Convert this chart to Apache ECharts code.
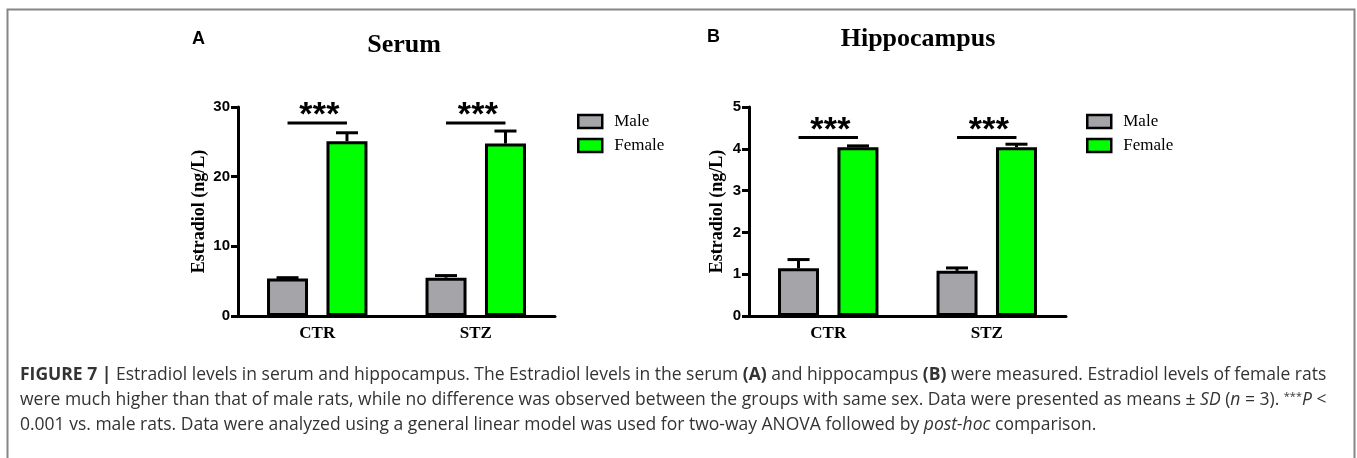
<!DOCTYPE html>
<html>
<head>
<meta charset="utf-8">
<script src="https://cdn.jsdelivr.net/npm/echarts@6/dist/echarts.min.js"></script>
<style>
html,body{margin:0;padding:0;background:#fff;}
#chart{width:1357px;height:458px;}
</style>
</head>
<body>
<div id="chart"></div>
<script>
// ---- data ----
const categories = ['CTR', 'STZ'];
const seriesNames = ['Male', 'Female'];
const serumMale = [5.4, 5.5];
const serumMaleSD = [0.1, 0.3];
const serumFemale = [25.1, 24.75];
const serumFemaleSD = [1.2, 1.8];
const hippoMale = [1.14, 1.08];
const hippoMaleSD = [0.21, 0.07];
const hippoFemale = [4.04, 4.04];
const hippoFemaleSD = [0.03, 0.07];
const serumSig = [27.7, 27.7];
const hippoSig = [4.27, 4.27];
const sigLabel = '***';
const serumAxis = { min: 0, max: 30, interval: 10 };
const hippoAxis = { min: 0, max: 5, interval: 1 };
const panelTitles = ['Serum', 'Hippocampus'];
const panelLetters = ['A', 'B'];
const yAxisName = 'Estradiol (ng/L)';
const captionLines = [
  '{b|FIGURE 7 |} Estradiol levels in serum and hippocampus. The Estradiol levels in the serum {b|(A)} and hippocampus {b|(B)} were measured. Estradiol levels of female rats',
  'were much higher than that of male rats, while no difference was observed between the groups with same sex. Data were presented as means \u00b1 {i|SD} ({i|n} = 3). {s|***}{i|P} <',
  '0.001 vs. male rats. Data were analyzed using a general linear model was used for two-way ANOVA followed by {i|post-hoc} comparison.'
];

// ---- styles ----
const BAR_W = 41, BAR_GAP = 0.45, BORDER = 3;
const OFFSET = BAR_W * (1 + BAR_GAP) / 2;
const COLORS = ['#a5a5a9', '#00ff00'];
const SERIF = '"Liberation Serif", "Times New Roman", serif';
const SANS = '"Liberation Sans", Arial, sans-serif';
const CAP = '"Open Sans", "Liberation Sans", sans-serif';
const CAP_SIZE = 17.5;

function errRender(offset) {
  return function (params, api) {
    const c = api.value(0);
    const p0 = api.coord([c, api.value(1)]);
    const p1 = api.coord([c, api.value(2)]);
    const x = p0[0] + offset;
    return {
      type: 'group',
      children: [
        { type: 'line', shape: { x1: x, y1: p0[1], x2: x, y2: p1[1] }, style: { stroke: '#000', lineWidth: 3 } },
        { type: 'line', shape: { x1: x - 11, y1: p1[1], x2: x + 11, y2: p1[1] }, style: { stroke: '#000', lineWidth: 3 } }
      ]
    };
  };
}
function sigRender(params, api) {
  const c = api.value(0);
  const p = api.coord([c, api.value(1)]);
  const children = [
    { type: 'line', shape: { x1: p[0] - OFFSET, y1: p[1], x2: p[0] + OFFSET, y2: p[1] }, style: { stroke: '#000', lineWidth: 3 } }
  ];
  const n = sigLabel.length;
  for (let k = 0; k < n; k++) {
    children.push({
      type: 'text',
      x: p[0] + 2 + (k - (n - 1) / 2) * 13.5,
      y: p[1] + 10,
      style: { text: sigLabel[k], fontFamily: SANS, fontWeight: 'bold', fontSize: 34, fill: '#000', textAlign: 'center', textVerticalAlign: 'bottom', align: 'center', verticalAlign: 'bottom' }
    });
  }
  return { type: 'group', children };
}

const grids = [
  { left: 238, top: 107, width: 317, height: 209 },
  { left: 749, top: 107, width: 317, height: 209 }
];
function xAx(i) {
  return {
    type: 'category', gridIndex: i, data: categories,
    axisLine: { lineStyle: { color: '#000', width: 3 } },
    axisTick: { alignWithLabel: true, length: 7, lineStyle: { color: '#000', width: 3 } },
    axisLabel: { margin: 9, color: '#000', fontFamily: SERIF, fontWeight: 'bold', fontSize: 17 }
  };
}
function yAx(i, ax, gap) {
  return {
    type: 'value', gridIndex: i, min: ax.min, max: ax.max, interval: ax.interval,
    name: yAxisName, nameLocation: 'middle', nameGap: gap, nameRotate: 90,
    nameTextStyle: { fontFamily: SERIF, fontWeight: 'bold', fontSize: 18, color: '#000' },
    axisLine: { show: true, lineStyle: { color: '#000', width: 3 } },
    axisTick: { show: true, length: 7, lineStyle: { color: '#000', width: 3 } },
    axisLabel: { margin: 8, color: '#000', fontFamily: SANS, fontWeight: 'bold', fontSize: 15 },
    splitLine: { show: false }
  };
}
function bar(name, data, i, color) {
  return {
    type: 'bar', name, data, xAxisIndex: i, yAxisIndex: i,
    barWidth: BAR_W, barGap: (BAR_GAP * 100) + '%',
    itemStyle: { color, borderColor: '#000', borderWidth: BORDER },
    emphasis: { disabled: true }, animation: false
  };
}
function err(data, sd, i, offset) {
  return {
    type: 'custom', name: 'err', xAxisIndex: i, yAxisIndex: i,
    data: data.map((v, k) => [k, v, v + sd[k]]),
    renderItem: errRender(offset), z: 3, animation: false
  };
}
function sig(data, i) {
  return {
    type: 'custom', name: 'sig', xAxisIndex: i, yAxisIndex: i,
    data: data.map((v, k) => [k, v]),
    renderItem: sigRender, z: 3, animation: false
  };
}
function legend(left) {
  return {
    data: seriesNames, orient: 'vertical', left, top: 113, padding: 0, icon: 'rect',
    itemWidth: 24, itemHeight: 13, itemGap: 7, selectedMode: false,
    itemStyle: { borderColor: '#000', borderWidth: 2.5 },
    textStyle: { fontFamily: SERIF, fontSize: 17, color: '#000', padding: [0, 0, 0, 7] }
  };
}

const chart = echarts.init(document.getElementById('chart'), null, { renderer: 'canvas' });
chart.setOption({
  animation: false,
  backgroundColor: '#fff',
  grid: grids,
  xAxis: [xAx(0), xAx(1)],
  yAxis: [yAx(0, serumAxis, 30), yAx(1, hippoAxis, 23)],
  legend: [legend(577), legend(1086)],
  series: [
    bar(seriesNames[0], serumMale, 0, COLORS[0]),
    bar(seriesNames[1], serumFemale, 0, COLORS[1]),
    err(serumMale, serumMaleSD, 0, -OFFSET),
    err(serumFemale, serumFemaleSD, 0, OFFSET),
    sig(serumSig, 0),
    bar(seriesNames[0], hippoMale, 1, COLORS[0]),
    bar(seriesNames[1], hippoFemale, 1, COLORS[1]),
    err(hippoMale, hippoMaleSD, 1, -OFFSET),
    err(hippoFemale, hippoFemaleSD, 1, OFFSET),
    sig(hippoSig, 1)
  ],
  graphic: [
    { type: 'rect', shape: { x: 7.5, y: 9.5, width: 1347, height: 600 }, style: { fill: 'none', stroke: '#858585', lineWidth: 2 }, silent: true },
    { type: 'text', x: 404, y: 58, style: { text: panelTitles[0], fontFamily: SERIF, fontWeight: 'bold', fontSize: 26, fill: '#000', textAlign: 'center', textVerticalAlign: 'bottom', align: 'center', verticalAlign: 'bottom' } },
    { type: 'text', x: 918, y: 52, style: { text: panelTitles[1], fontFamily: SERIF, fontWeight: 'bold', fontSize: 26, fill: '#000', textAlign: 'center', textVerticalAlign: 'bottom', align: 'center', verticalAlign: 'bottom' } },
    { type: 'text', x: 192, y: 39, style: { text: panelLetters[0], fontFamily: SANS, fontWeight: 'bold', fontSize: 18, fill: '#000', textVerticalAlign: 'middle', verticalAlign: 'middle' } },
    { type: 'text', x: 707, y: 37, style: { text: panelLetters[1], fontFamily: SANS, fontWeight: 'bold', fontSize: 18, fill: '#000', textVerticalAlign: 'middle', verticalAlign: 'middle' } },
    ...captionLines.map((t, k) => ({
      type: 'text', x: 20, y: 375 + k * 25,
      style: {
        text: t, fontFamily: CAP, fontSize: CAP_SIZE, fill: '#333',
        textVerticalAlign: 'middle', verticalAlign: 'middle',
        rich: {
          b: { fontFamily: CAP, fontWeight: 'bold', fontSize: CAP_SIZE, fill: '#333' },
          i: { fontFamily: CAP, fontStyle: 'italic', fontSize: CAP_SIZE, fill: '#333' },
          s: { fontFamily: CAP, fontSize: 11, fill: '#333', verticalAlign: 'top' }
        }
      }
    }))
  ]
});
</script>
</body>
</html>
